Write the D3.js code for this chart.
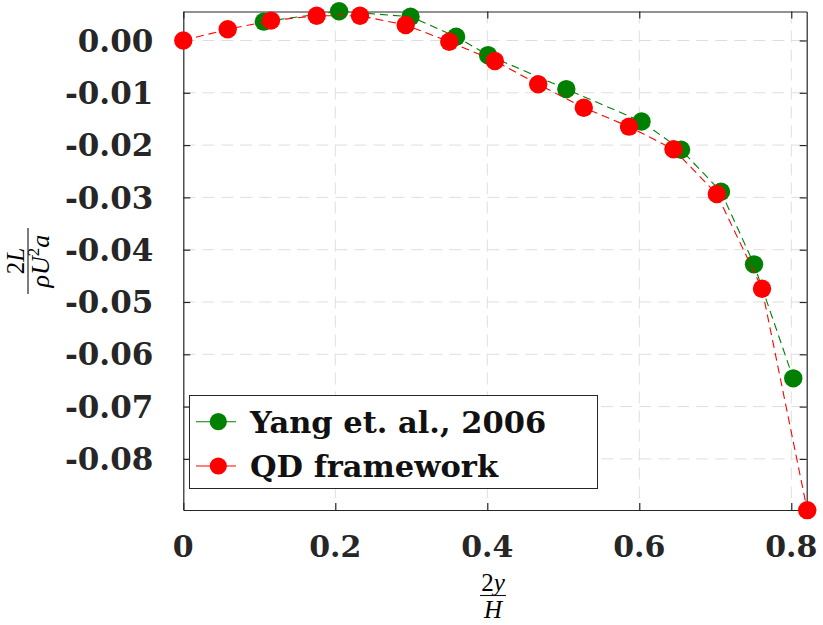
<!DOCTYPE html>
<html>
<head>
<meta charset="utf-8">
<script src="https://cdn.jsdelivr.net/npm/d3@7"></script>
<style>
  html, body { margin: 0; padding: 0; background: #fff; }
  svg { display: block; }
</style>
</head>
<body>
<div id="chart"></div>
<script>
// ---- data ----
const yangX = [0.106, 0.205, 0.299, 0.359, 0.401, 0.504, 0.603, 0.655, 0.7075, 0.751, 0.8026];
const yangY = [0.0036, 0.0056, 0.00455, 0.0007, -0.0028, -0.0093, -0.0155, -0.0209, -0.0289, -0.0428, -0.0646];
const qdX = [0, 0.0584, 0.1154, 0.1755, 0.2325, 0.2926, 0.350, 0.410, 0.467, 0.527, 0.5865, 0.645, 0.702, 0.7615, 0.821];
const qdY = [0, 0.00214, 0.0038, 0.00474, 0.00474, 0.00296, -0.00023, -0.00392, -0.00838, -0.01285, -0.01648, -0.0208, -0.02935, -0.04746, -0.0898];
const seriesNames = ["Yang et. al., 2006", "QD framework"];
const seriesColors = ["#008000", "#ff0000"];
const xTicks = [0, 0.2, 0.4, 0.6, 0.8];
const xTickLabels = ["0", "0.2", "0.4", "0.6", "0.8"];
const yTicks = [0, -0.01, -0.02, -0.03, -0.04, -0.05, -0.06, -0.07, -0.08];
const yTickLabels = ["0.00", "-0.01", "-0.02", "-0.03", "-0.04", "-0.05", "-0.06", "-0.07", "-0.08"];

const W = 823, H = 625;
const margin = {left: 183.3, top: 11.5, right: 16.3, bottom: 115};
const pw = W - margin.left - margin.right, ph = H - margin.top - margin.bottom;

const svg = d3.select("#chart").append("svg").attr("width", W).attr("height", H);
const g = svg.append("g").attr("transform", `translate(${margin.left},${margin.top})`);

const x = d3.scaleLinear().domain([0, 0.8203]).range([0, pw]);
const y = d3.scaleLinear().domain([-0.08977, 0.00554]).range([ph, 0]);

const tickFont = "'DejaVu Serif', serif";
const axisColor = "#262626";

// grid
g.append("g").selectAll("line").data(xTicks.filter(d => d > 0)).join("line")
  .attr("x1", d => x(d)).attr("x2", d => x(d)).attr("y1", 0).attr("y2", ph)
  .attr("stroke", "#dedede").attr("stroke-width", 1).attr("stroke-dasharray", "12,7");
g.append("g").selectAll("line").data(yTicks).join("line")
  .attr("y1", d => y(d)).attr("y2", d => y(d)).attr("x1", 0).attr("x2", pw)
  .attr("stroke", "#dedede").attr("stroke-width", 1).attr("stroke-dasharray", "12,7");

// axes (ticks inward, box)
const tl = 7;
const axB = d3.axisBottom(x).tickValues(xTicks).tickSize(-tl).tickSizeOuter(0).tickFormat("");
const axT = d3.axisTop(x).tickValues(xTicks).tickSize(-tl).tickSizeOuter(0).tickFormat("");
const axL = d3.axisLeft(y).tickValues(yTicks).tickSize(-tl).tickSizeOuter(0).tickFormat("");
const axR = d3.axisRight(y).tickValues(yTicks).tickSize(-tl).tickSizeOuter(0).tickFormat("");
[[axB, `translate(0,${ph})`], [axT, "translate(0,0)"], [axL, "translate(0,0)"], [axR, `translate(${pw},0)`]].forEach(([ax, tr]) => {
  const a = g.append("g").attr("transform", tr).call(ax);
  a.selectAll("path.domain").attr("stroke", axisColor).attr("stroke-width", 1.2);
  a.selectAll(".tick line").attr("stroke", axisColor).attr("stroke-width", 1.2);
});

// tick labels
g.append("g").selectAll("text").data(xTicks).join("text")
  .attr("x", d => x(d)).attr("y", ph + 47)
  .attr("text-anchor", "middle")
  .style("font-family", tickFont).style("font-weight", "bold").style("font-size", "30px")
  .attr("fill", axisColor)
  .text((d, i) => xTickLabels[i]);
g.append("g").selectAll("text").data(yTicks).join("text")
  .attr("x", -30).attr("y", d => y(d))
  .attr("dy", "0.36em")
  .attr("text-anchor", "end")
  .style("font-family", tickFont).style("font-weight", "bold").style("font-size", "31px")
  .attr("fill", axisColor)
  .text((d, i) => yTickLabels[i]);

// series
const line = d3.line().x(d => x(d[0])).y(d => y(d[1]));
const series = [
  {pts: yangX.map((v, i) => [v, yangY[i]]), color: seriesColors[0]},
  {pts: qdX.map((v, i) => [v, qdY[i]]), color: seriesColors[1]}
];
series.forEach(s => {
  g.append("path").datum(s.pts).attr("d", line)
    .attr("fill", "none").attr("stroke", s.color).attr("stroke-width", 1.1)
    .attr("stroke-dasharray", "8,5");
  g.append("g").selectAll("circle").data(s.pts).join("circle")
    .attr("cx", d => x(d[0])).attr("cy", d => y(d[1])).attr("r", 9.2)
    .attr("fill", s.color);
});

// legend
const lg = svg.append("g");
lg.append("rect").attr("x", 189.5).attr("y", 395.5).attr("width", 408).attr("height", 93)
  .attr("fill", "#fff").attr("stroke", axisColor).attr("stroke-width", 1);
seriesNames.forEach((name, i) => {
  const cy = 421.7 + i * 44.3;
  lg.append("line").attr("x1", 196).attr("x2", 236).attr("y1", cy).attr("y2", cy)
    .attr("stroke", seriesColors[i]).attr("stroke-width", 1.1);
  lg.append("circle").attr("cx", 218.3).attr("cy", cy).attr("r", 8.6).attr("fill", seriesColors[i]);
  lg.append("text").attr("x", 250).attr("y", cy + 11)
    .style("font-family", tickFont).style("font-weight", "bold").style("font-size", "30.5px")
    .attr("fill", "#111")
    .text(name);
});

// x label: 2y / H
const mathFont = "'Liberation Serif', 'Times New Roman', serif";
const xl = svg.append("g").attr("transform", `translate(${margin.left + pw / 2 - 2},595.5)`);
xl.append("text").attr("x", 0).attr("y", -5).attr("text-anchor", "middle")
  .style("font-family", mathFont).style("font-size", "25px")
  .html('2<tspan font-style="italic">y</tspan>');
xl.append("line").attr("x1", -13).attr("x2", 13).attr("y1", 0).attr("y2", 0).attr("stroke", "#111").attr("stroke-width", 1.1);
xl.append("text").attr("x", 0).attr("y", 22).attr("text-anchor", "middle")
  .style("font-family", mathFont).style("font-size", "25px").style("font-style", "italic")
  .text("H");

// y label: 2L / (rho U^2 a)
const yl = svg.append("g").attr("transform", `translate(28,261) rotate(-90)`);
yl.append("text").attr("x", 0).attr("y", -4).attr("text-anchor", "middle")
  .style("font-family", mathFont).style("font-size", "25px")
  .html('2<tspan font-style="italic">L</tspan>');
yl.append("line").attr("x1", -33).attr("x2", 33).attr("y1", 0).attr("y2", 0).attr("stroke", "#111").attr("stroke-width", 1.1);
yl.append("text").attr("x", 0).attr("y", 21).attr("text-anchor", "middle")
  .style("font-family", mathFont).style("font-size", "26px").style("font-style", "italic")
  .html('ρU<tspan dy="-10" font-size="17px" font-style="normal">2</tspan><tspan dy="10">a</tspan>');
</script>
</body>
</html>
